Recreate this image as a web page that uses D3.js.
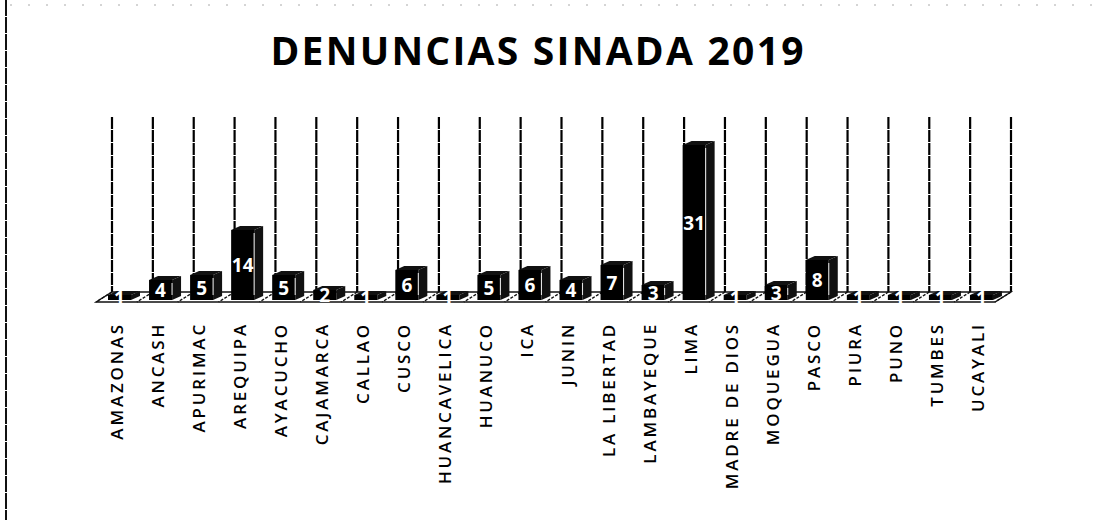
<!DOCTYPE html>
<html><head><meta charset="utf-8">
<script src="https://cdn.jsdelivr.net/npm/d3@7"></script>
<style>body{margin:0;background:#fff}svg{display:block}</style>
</head><body>
<svg id="c" width="1098" height="520"></svg>
<script>
const categories = ["AMAZONAS","ANCASH","APURIMAC","AREQUIPA","AYACUCHO","CAJAMARCA","CALLAO","CUSCO","HUANCAVELICA","HUANUCO","ICA","JUNIN","LA LIBERTAD","LAMBAYEQUE","LIMA","MADRE DE DIOS","MOQUEGUA","PASCO","PIURA","PUNO","TUMBES","UCAYALI"];
const values = [1,4,5,14,5,2,1,6,1,5,6,4,7,3,31,1,3,8,1,1,1,1];
const title = "DENUNCIAS SINADA 2019";
const yMax = 35;

const svg = d3.select("#c");
const W = 1098, H = 520;

// scan edge line at left
svg.append("line").attr("x1",6).attr("x2",6).attr("y1",0).attr("y2",H)
  .attr("stroke","#111").attr("stroke-width",2).attr("stroke-dasharray","16,1");
svg.append("line").attr("x1",10).attr("x2",W).attr("y1",5).attr("y2",5)
  .attr("stroke","#aaa").attr("stroke-width",1).attr("stroke-dasharray","2,16");

// title
svg.append("text").attr("x",537).attr("y",65).attr("text-anchor","middle")
  .attr("font-family","Open Sans").attr("font-weight","bold").attr("font-size",39)
  .attr("textLength",533).attr("lengthAdjust","spacing")
  .attr("fill","#000").text(title);

// scales
const xFront = d3.scaleBand().domain(categories).range([100,1003]);
const xBack = d3.scaleBand().domain(categories).range([112,1011]);
const yBack = d3.scaleLinear().domain([0,yMax]).range([292,117]);
const yFront = d3.scaleLinear().domain([0,yMax]).range([300,125]);
const DX = 9, DY = -4, FW = 23;

// gridlines on back plane
const gx = categories.map(c => xBack(c)).concat([xBack.range()[1]]);
svg.append("g").selectAll("line").data(gx).join("line")
  .attr("x1",d=>d).attr("x2",d=>d).attr("y1",yBack(yMax)).attr("y2",yBack(0))
  .attr("stroke","#000").attr("stroke-width",2.2).attr("stroke-dasharray","12,1");

// floor
const fb = yBack(0), ff = 302, fdx = -16;
const x0 = xBack.range()[0], x1 = xBack.range()[1];
svg.append("path")
  .attr("d",`M${x0},${fb}L${x1},${fb}L${x1+fdx},${ff}L${x0+fdx},${ff}Z`)
  .attr("fill","#fff").attr("stroke","#111").attr("stroke-width",1.3);
svg.append("g").selectAll("line").data(gx).join("line")
  .attr("x1",d=>d).attr("y1",fb).attr("x2",d=>d+fdx).attr("y2",ff)
  .attr("stroke","#111").attr("stroke-width",1.4).attr("stroke-dasharray","3,1.5");

// bars
const bars = svg.append("g").selectAll("g").data(categories).join("g");
bars.each(function(c,i){
  const g = d3.select(this);
  const xl = xFront(c) + 8, xr = xl + FW;
  const yt = yFront(values[i]), yb = yFront(0);
  g.append("path").attr("d",`M${xr},${yt}L${xr+DX},${yt+DY}L${xr+DX},${yb+DY}L${xr},${yb}Z`).attr("fill","#111");
  g.append("path").attr("d",`M${xl},${yt}L${xl+DX},${yt+DY}L${xr+DX},${yt+DY}L${xr},${yt}Z`).attr("fill","#111");
  g.append("rect").attr("x",xl).attr("y",yt).attr("width",FW).attr("height",yb-yt).attr("fill","#000");
  if (yb - yt > 10) {
    g.append("line").attr("x1",xr).attr("x2",xr).attr("y1",yt+3).attr("y2",yb-5)
      .attr("stroke","#fff").attr("stroke-width",1.1).attr("opacity",0.85);
  }
});

// value labels
svg.append("g").selectAll("text").data(categories).join("text")
  .attr("x",c=>xFront(c)+8+FW/2)
  .attr("y",(c,i)=>(yFront(values[i])+yFront(0))/2 + 7)
  .attr("text-anchor","middle").attr("font-family","Open Sans").attr("font-weight","bold")
  .attr("font-size",19).attr("fill","#fff").text((c,i)=>values[i]);

// category labels
svg.append("g").selectAll("text").data(categories).join("text")
  .attr("transform",c=>`translate(${xFront(c)+16.5+6},322) rotate(-90)`)
  .attr("text-anchor","end").attr("font-family","Open Sans").attr("font-weight",600)
  .attr("font-size",17).attr("letter-spacing",2.8).attr("fill","#000").text(c=>c);
</script>
</body></html>
